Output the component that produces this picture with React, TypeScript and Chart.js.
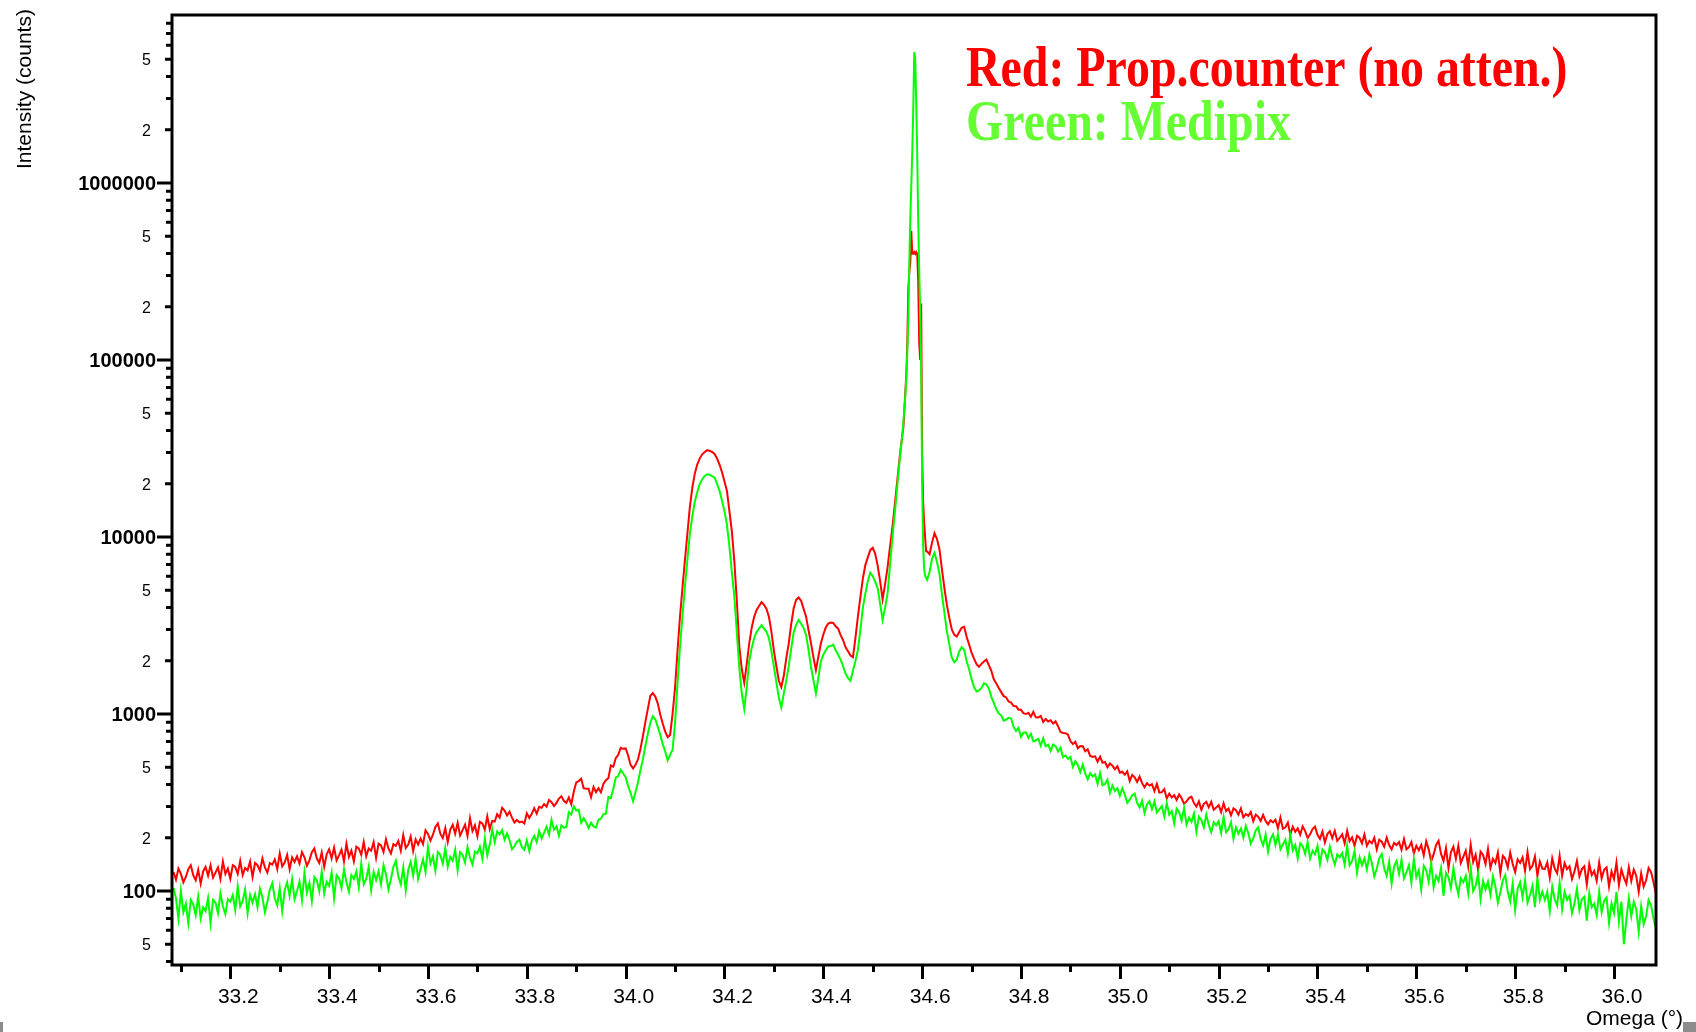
import React, { useEffect, useRef } from "react";
import { Chart, registerables } from "chart.js";

Chart.register(...registerables);

// Axis limits
const OMEGA_MIN = 33.082;
const OMEGA_MAX = 36.085;
const COUNTS_MIN = 38.2;
const COUNTS_MAX = 8.9e6;

// Scan segments (start, end omega); the main reflection is sampled finer
const SEG_A = [33.085, 34.56];
const SEG_B = [34.562, 34.608];
const SEG_C = [34.61, 36.085];

// Proportional counter (no attenuator)
const RED_A = [
  128, 116, 134, 125, 112, 120, 133, 140, 123, 115,
  132, 110, 129, 137, 122, 140, 119, 127, 136, 117,
  147, 125, 134, 117, 140, 137, 125, 148, 123, 135,
  131, 147, 120, 144, 140, 130, 153, 136, 127, 144,
  141, 151, 133, 163, 138, 145, 160, 133, 155, 146,
  157, 143, 166, 155, 139, 149, 166, 174, 153, 144,
  165, 137, 161, 172, 153, 176, 149, 159, 171, 147,
  185, 156, 169, 147, 178, 174, 160, 189, 157, 174,
  169, 189, 154, 185, 181, 166, 196, 174, 163, 184,
  180, 192, 169, 207, 175, 183, 203, 168, 196, 183,
  198, 184, 220, 210, 193, 208, 230, 241, 211, 199,
  227, 189, 222, 237, 211, 243, 206, 221, 237, 205,
  258, 218, 235, 204, 246, 241, 222, 264, 224, 249,
  247, 272, 260, 295, 285, 267, 281, 260, 244, 252,
  244, 247, 241, 275, 259, 273, 294, 274, 299, 295,
  310, 300, 327, 318, 302, 315, 333, 343, 323, 315,
  338, 309, 364, 411, 418, 431, 381, 378, 378, 339,
  387, 362, 381, 361, 403, 423, 434, 512, 504, 563,
  589, 645, 636, 639, 583, 516, 493, 517, 555, 637,
  752, 906, 1073, 1268, 1312, 1255, 1148, 994, 884, 796,
  741, 762, 1004, 1410, 2290, 3560, 5180, 7430, 10480, 14820,
  19050, 22880, 25740, 27830, 29350, 30250, 30950, 30680, 30240, 29480,
  27750, 25680, 23240, 20570, 18220, 13980, 10690, 7260, 4350, 2410,
  1790, 1505, 1912, 2498, 3060, 3530, 3870, 4080, 4290, 4140,
  3920, 3530, 2915, 2280, 1862, 1541, 1420, 1645, 2062, 2500,
  3215, 3960, 4420, 4550, 4370, 3940, 3560, 2985, 2525, 2090,
  1770, 2110, 2500, 2815, 3080, 3245, 3290, 3270, 3130, 3035,
  2790, 2615, 2385, 2262, 2140, 2095, 2690, 3560, 4580, 5820,
  6940, 7680, 8430, 8690, 8030, 6890, 5620, 4450, 5420, 6740,
  8830, 11450, 15540, 21350, 29050, 37900,
];
const RED_B = [
  41690, 52480, 66070, 83180, 125900, 251200, 316200, 354800, 537000, 398100,
  398100, 407400, 398100, 407400, 398100, 281800, 125900, 100000, 208900, 28180,
  15850, 12020, 10000, 8318,
];
const RED_C = [
  8290, 7990, 9300, 10510, 9740, 8540, 6580, 5150, 4150, 3480,
  3005, 2800, 2740, 2905, 3070, 3110, 2735, 2470, 2225, 2055,
  1915, 1848, 1920, 1980, 2030, 1890, 1752, 1572, 1490, 1402,
  1330, 1262, 1241, 1176, 1160, 1109, 1108, 1058, 1056, 1010,
  1000, 1016, 966, 1030, 958, 957, 975, 900, 938, 908,
  923, 883, 908, 854, 791, 782, 779, 766, 703, 676,
  697, 640, 660, 658, 616, 631, 580, 573, 577, 538,
  574, 531, 536, 501, 525, 511, 487, 507, 466, 472,
  454, 475, 418, 453, 439, 413, 443, 408, 386, 407,
  394, 401, 367, 403, 360, 362, 376, 333, 355, 338,
  348, 327, 352, 334, 311, 321, 335, 341, 314, 300,
  321, 288, 311, 319, 297, 319, 288, 296, 306, 279,
  313, 283, 292, 268, 293, 286, 270, 293, 261, 272,
  266, 280, 248, 270, 263, 249, 269, 249, 238, 251,
  244, 253, 226, 260, 225, 229, 244, 209, 231, 216,
  226, 208, 232, 218, 199, 209, 224, 231, 208, 197,
  217, 188, 210, 218, 199, 219, 192, 200, 209, 186,
  219, 191, 201, 180, 205, 200, 186, 209, 180, 192,
  186, 200, 172, 195, 190, 178, 200, 182, 172, 187,
  182, 189, 171, 197, 172, 177, 189, 163, 180, 170,
  182, 159, 191, 172, 147, 161, 182, 192, 162, 148,
  175, 135, 166, 178, 152, 180, 144, 156, 169, 138,
  183, 146, 160, 131, 167, 160, 142, 173, 135, 152,
  144, 165, 126, 158, 152, 136, 165, 142, 128, 151,
  144, 155, 130, 166, 133, 139, 157, 122, 147, 134,
  133, 145, 119, 153, 134, 126, 158, 122, 144, 133,
  138, 117, 129, 148, 121, 133, 138, 109, 142, 123,
  130, 114, 145, 118, 132, 136, 106, 129, 117, 145,
  108, 132, 119, 110, 136, 114, 132, 122, 99, 126,
  106, 115, 135, 128, 112, 96,
];

// Medipix
const GREEN_A = [
  104, 91, 70, 100, 76, 85, 66, 89, 84, 73,
  93, 70, 81, 77, 91, 66, 89, 86, 75, 97,
  82, 74, 90, 87, 95, 78, 106, 82, 88, 102,
  75, 95, 86, 96, 81, 103, 92, 76, 87, 102,
  111, 91, 83, 104, 77, 101, 112, 94, 117, 90,
  100, 113, 89, 127, 98, 111, 88, 120, 115, 100,
  129, 97, 113, 107, 127, 91, 123, 118, 104, 133,
  112, 99, 123, 117, 129, 105, 143, 109, 117, 137,
  101, 128, 115, 129, 109, 140, 124, 102, 117, 137,
  148, 121, 109, 136, 101, 132, 146, 122, 152, 117,
  133, 151, 128, 177, 143, 157, 130, 166, 160, 143,
  175, 137, 156, 148, 171, 131, 166, 160, 145, 177,
  154, 141, 167, 163, 178, 152, 198, 159, 183, 223,
  189, 217, 209, 221, 195, 212, 194, 172, 179, 190,
  195, 177, 171, 193, 168, 193, 205, 189, 219, 198,
  214, 231, 208, 252, 222, 232, 205, 235, 228, 230,
  279, 271, 301, 285, 288, 243, 258, 245, 227, 243,
  232, 229, 253, 256, 272, 273, 340, 335, 378, 437,
  446, 483, 461, 440, 391, 358, 321, 363, 412, 483,
  556, 664, 776, 896, 972, 934, 846, 763, 676, 614,
  548, 588, 628, 895, 1495, 2405, 3590, 5260, 7480, 10490,
  13180, 15870, 17980, 19990, 21170, 22130, 22610, 22530, 22070, 21650,
  19970, 18230, 15970, 14020, 11720, 8820, 6290, 4590, 2870, 1830,
  1310, 1068, 1420, 1988, 2362, 2680, 2912, 3040, 3175, 3040,
  2915, 2680, 2262, 1850, 1508, 1241, 1090, 1306, 1543, 1870,
  2340, 2895, 3190, 3400, 3240, 3062, 2805, 2312, 1850, 1558,
  1310, 1608, 1986, 2162, 2290, 2410, 2420, 2466, 2290, 2160,
  2030, 1862, 1690, 1594, 1540, 1760, 1990, 2302, 2985, 3995,
  4780, 5620, 6290, 6020, 5580, 5140, 4190, 3398, 3990, 4800,
  6980, 10030, 13960, 19990, 27950, 38100,
];
const GREEN_B = [
  44670, 52480, 63100, 79430, 112200, 169800, 354800, 631000, 955000, 1514000,
  2630000, 5495000, 5012000, 2818000, 1479000, 616600, 323600, 190500, 89130, 19950,
  8913, 6607, 6026, 5888,
];
const GREEN_C = [
  5730, 6340, 7560, 8150, 7220, 6190, 4770, 3730, 2940, 2465,
  2080, 1962, 2030, 2250, 2388, 2302, 1984, 1790, 1574, 1420,
  1340, 1360, 1405, 1490, 1470, 1392, 1250, 1156, 1064, 1008,
  982, 917, 931, 952, 944, 846, 802, 835, 743, 785,
  789, 733, 774, 701, 711, 725, 662, 730, 658, 671,
  619, 673, 659, 614, 646, 571, 583, 558, 572, 503,
  542, 515, 469, 517, 462, 428, 464, 444, 457, 404,
  464, 396, 402, 426, 359, 395, 367, 381, 345, 381,
  351, 315, 328, 348, 355, 315, 296, 324, 276, 309,
  322, 290, 321, 278, 289, 302, 264, 314, 270, 283,
  241, 292, 280, 250, 294, 237, 260, 246, 274, 216,
  263, 252, 229, 270, 236, 215, 245, 235, 248, 213,
  262, 215, 223, 245, 197, 229, 211, 226, 200, 233,
  212, 185, 199, 220, 229, 197, 181, 208, 167, 197,
  209, 182, 209, 172, 183, 195, 163, 207, 170, 182,
  153, 186, 180, 162, 189, 153, 169, 161, 180, 142,
  172, 166, 150, 178, 156, 141, 161, 155, 164, 141,
  180, 140, 148, 168, 127, 155, 140, 153, 132, 161,
  144, 121, 134, 153, 162, 134, 122, 146, 110, 138,
  148, 125, 150, 118, 128, 140, 112, 152, 120, 131,
  102, 139, 131, 113, 145, 105, 122, 114, 135, 94,
  127, 120, 104, 135, 110, 96, 118, 112, 122, 97,
  134, 100, 107, 125, 90, 114, 102, 113, 95, 121,
  106, 86, 98, 115, 123, 99, 87, 110, 78, 103,
  112, 92, 115, 86, 95, 107, 81, 119, 89, 99,
  89, 99, 77, 106, 90, 83, 111, 79, 99, 89,
  94, 75, 85, 103, 78, 90, 93, 68, 97, 81,
  85, 73, 99, 76, 88, 92, 66, 85, 75, 99,
  67, 87, 50, 69, 91, 72, 87, 79, 59, 82,
  65, 72, 89, 83, 70, 61,
];

// Tick marks and labels
const X_MAJOR_TICKS = [33.2, 33.4, 33.6, 33.8, 34.0, 34.2, 34.4, 34.6, 34.8, 35.0, 35.2, 35.4, 35.6, 35.8, 36.0];
const X_TICK_LABELS = ["33.2", "33.4", "33.6", "33.8", "34.0", "34.2", "34.4", "34.6", "34.8", "35.0", "35.2", "35.4", "35.6", "35.8", "36.0"];
const X_MINOR_TICKS = [33.1, 33.3, 33.5, 33.7, 33.9, 34.1, 34.3, 34.5, 34.7, 34.9, 35.1, 35.3, 35.5, 35.7, 35.9];
const Y_MAJOR_TICKS = [100, 1000, 10000, 100000, 1000000];
const Y_MAJOR_LABELS = ["100", "1000", "10000", "100000", "1000000"];
const Y_MINOR_LABELED = [50, 200, 500, 2000, 5000, 20000, 50000, 200000, 500000, 2000000, 5000000];
const Y_MINOR_LABELS = ["5", "2", "5", "2", "5", "2", "5", "2", "5", "2", "5"];
const Y_MINOR_MULTIPLIERS = [3, 4, 6, 7, 8, 9];
const Y_DECADES = [10, 100, 1000, 10000, 100000, 1000000];

const X_TITLE = "Omega (°)";
const Y_TITLE = "Intensity (counts)";
const NOTE_RED = "Red: Prop.counter (no atten.)";
const NOTE_GREEN = "Green: Medipix";

const RED = "#ff0000";
const GREEN = "#00ff00";
const GREEN_TEXT = "#66ff33";
const SANS = "'Liberation Sans', Arial, Helvetica, sans-serif";
const SERIF = "'Liberation Serif', 'Times New Roman', serif";

function spread(seg: number[], values: number[]) {
  const [start, end] = seg;
  const step = (end - start) / (values.length - 1);
  return values.map((v, i) => ({ x: start + i * step, y: v }));
}

const axesPlugin = {
  id: "rockingAxes",
  afterDatasetsDraw(chart: any) {
    const { ctx, chartArea: a, scales } = chart;
    const xs = scales.x;
    const ys = scales.y;
    ctx.save();
    ctx.strokeStyle = "#000";
    ctx.fillStyle = "#000";
    ctx.lineCap = "butt";

    // plot frame
    ctx.lineWidth = 3;
    ctx.strokeRect(a.left, a.top, a.right - a.left, a.bottom - a.top);

    // x ticks
    ctx.lineWidth = 3;
    ctx.beginPath();
    X_MAJOR_TICKS.forEach((v) => {
      const px = Math.round(xs.getPixelForValue(v)) + 0.5;
      ctx.moveTo(px, a.bottom);
      ctx.lineTo(px, a.bottom + 14);
    });
    X_MINOR_TICKS.forEach((v) => {
      const px = Math.round(xs.getPixelForValue(v)) + 0.5;
      ctx.moveTo(px, a.bottom);
      ctx.lineTo(px, a.bottom + 7);
    });
    ctx.stroke();

    ctx.font = `21px ${SANS}`;
    ctx.textAlign = "center";
    ctx.textBaseline = "alphabetic";
    X_MAJOR_TICKS.forEach((v, i) => {
      const px = xs.getPixelForValue(v);
      ctx.fillText(X_TICK_LABELS[i], px + 8, a.bottom + 38);
    });

    // y ticks
    ctx.beginPath();
    Y_MAJOR_TICKS.forEach((v) => {
      const py = ys.getPixelForValue(v);
      ctx.moveTo(a.left - 15, py);
      ctx.lineTo(a.left, py);
    });
    Y_MINOR_LABELED.forEach((v) => {
      const py = ys.getPixelForValue(v);
      ctx.moveTo(a.left - 7, py);
      ctx.lineTo(a.left, py);
    });
    Y_DECADES.forEach((d) => {
      Y_MINOR_MULTIPLIERS.forEach((m) => {
        const v = d * m;
        if (v < COUNTS_MIN || v > COUNTS_MAX) return;
        const py = ys.getPixelForValue(v);
        ctx.moveTo(a.left - 6, py);
        ctx.lineTo(a.left, py);
      });
    });
    ctx.stroke();

    ctx.textAlign = "right";
    ctx.font = `bold 20px ${SANS}`;
    Y_MAJOR_TICKS.forEach((v, i) => {
      const py = ys.getPixelForValue(v);
      ctx.fillText(Y_MAJOR_LABELS[i], a.left - 16, py + 7);
    });
    ctx.font = `16px ${SANS}`;
    Y_MINOR_LABELED.forEach((v, i) => {
      const py = ys.getPixelForValue(v);
      ctx.fillText(Y_MINOR_LABELS[i], a.left - 21, py + 6);
    });

    // axis titles
    ctx.font = `21px ${SANS}`;
    ctx.textAlign = "left";
    ctx.fillText(X_TITLE, 1586, 1025);
    ctx.save();
    ctx.translate(31, 169);
    ctx.rotate(-Math.PI / 2);
    ctx.fillText(Y_TITLE, 0, 0);
    ctx.restore();

    // detector notes
    ctx.font = `bold 56px ${SERIF}`;
    ctx.save();
    ctx.translate(966, 86);
    ctx.scale(0.855, 1);
    ctx.fillStyle = RED;
    ctx.fillText(NOTE_RED, 0, 0);
    ctx.restore();
    ctx.save();
    ctx.translate(966, 140);
    ctx.scale(0.855, 1);
    ctx.fillStyle = GREEN_TEXT;
    ctx.fillText(NOTE_GREEN, 0, 0);
    ctx.restore();

    // small grey corner marks
    ctx.fillStyle = "#8c8c8c";
    ctx.fillRect(0, 1022, 3, 10);
    ctx.fillRect(1683, 1022, 13, 10);

    ctx.restore();
  },
};

export default function App() {
  const canvasRef = useRef<HTMLCanvasElement | null>(null);

  useEffect(() => {
    const canvas = canvasRef.current;
    if (!canvas) return;
    const redPoints = [...spread(SEG_A, RED_A), ...spread(SEG_B, RED_B), ...spread(SEG_C, RED_C)];
    const greenPoints = [...spread(SEG_A, GREEN_A), ...spread(SEG_B, GREEN_B), ...spread(SEG_C, GREEN_C)];

    const chart = new Chart(canvas, {
      type: "line",
      data: {
        datasets: [
          {
            label: "Medipix",
            data: greenPoints,
            borderColor: GREEN,
            borderWidth: 2,
            pointRadius: 0,
            tension: 0,
            fill: false,
            order: 0,
          },
          {
            label: "Prop.counter (no atten.)",
            data: redPoints,
            borderColor: RED,
            borderWidth: 2,
            pointRadius: 0,
            tension: 0,
            fill: false,
            order: 1,
          },
        ],
      },
      options: {
        animation: false,
        responsive: false,
        maintainAspectRatio: false,
        devicePixelRatio: 1,
        events: [],
        layout: { padding: { left: 172, top: 15, right: 40, bottom: 67 } },
        plugins: {
          legend: { display: false },
          tooltip: { enabled: false },
          title: { display: false },
        },
        scales: {
          x: { type: "linear", min: OMEGA_MIN, max: OMEGA_MAX, display: false },
          y: { type: "logarithmic", min: COUNTS_MIN, max: COUNTS_MAX, display: false },
        },
      },
      plugins: [axesPlugin],
    });

    return () => chart.destroy();
  }, []);

  return (
    <div style={{ position: "absolute", left: 0, top: 0, width: 1696, height: 1032, background: "#fff" }}>
      <canvas ref={canvasRef} width={1696} height={1032} style={{ display: "block" }} />
    </div>
  );
}
